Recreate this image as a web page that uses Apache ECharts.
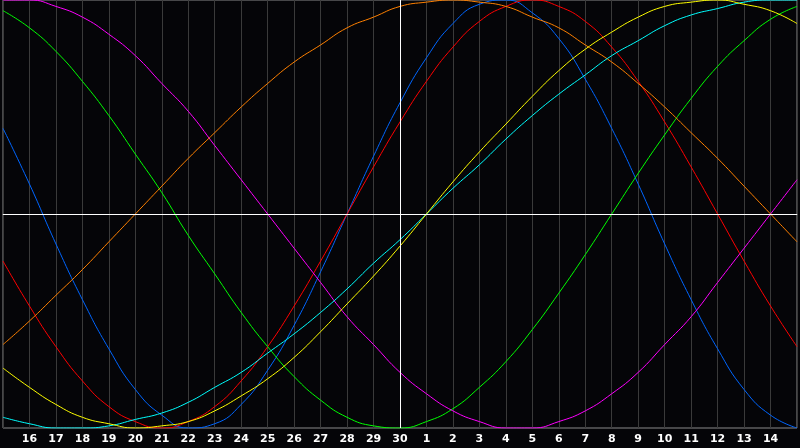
<!DOCTYPE html>
<html>
<head>
<meta charset="utf-8">
<script src="https://cdn.jsdelivr.net/npm/echarts@6/dist/echarts.min.js"></script>
<style>
  html, body { margin: 0; padding: 0; background: #050508; }
  #chart { width: 800px; height: 448px; }
</style>
</head>
<body>
<div id="chart"></div>
<script>
// days shown on the x axis (15th to 15th, first and last label hidden)
const days = ['15','16','17','18','19','20','21','22','23','24','25','26','27','28','29','30',
  '1','2','3','4','5','6','7','8','9','10','11','12','13','14','15'];
const today = '30';

// values in percent per day
const physical = [40,14,-14,-40,-63,-82,-94,-100,-98,-89,-73,-52,-27,0,27,52,73,89,98,100,94,82,63,40,14,-14,-40,-63,-82,-94,-100];
const emotional = [-22,-43,-62,-78,-90,-97,-100,-97,-90,-78,-62,-43,-22,0,22,43,62,78,90,97,100,97,90,78,62,43,22,0,-22,-43,-62];
const intellectual = [95,87,76,62,46,28,10,-10,-28,-46,-62,-76,-87,-95,-99,-100,-97,-91,-81,-69,-54,-37,-19,0,19,37,54,69,81,91,97];
const intuitive = [100,100,97,92,84,74,61,48,32,16,0,-16,-32,-48,-61,-74,-84,-92,-97,-100,-100,-97,-92,-84,-74,-61,-48,-32,-16,0,16];
const aesthetic = [-72,-81,-89,-95,-98,-100,-99,-97,-92,-85,-77,-67,-55,-42,-29,-15,0,15,29,42,55,67,77,85,92,97,99,100,98,95,89];
const awareness = [-61,-50,-38,-26,-13,0,13,26,38,50,61,71,79,87,92,97,99,100,99,97,92,87,79,71,61,50,38,26,13,0,-13];
const spiritual = [-95,-98,-100,-100,-99,-96,-93,-88,-81,-74,-65,-56,-46,-35,-23,-12,0,12,23,35,46,56,65,74,81,88,93,96,99,100,100];

const curves = [
  { name: 'Physical', data: physical, color: '#0066ff' },
  { name: 'Emotional', data: emotional, color: '#ff0000' },
  { name: 'Intellectual', data: intellectual, color: '#00ff00' },
  { name: 'Intuitive', data: intuitive, color: '#ff00ff' },
  { name: 'Awareness', data: awareness, color: '#ff8000' },
  { name: 'Spiritual', data: spiritual, color: '#00ffff' },
  { name: 'Aesthetic', data: aesthetic, color: '#ffff00' }
];

const chart = echarts.init(document.getElementById('chart'));

const series = curves.map(c => ({
  name: c.name,
  type: 'line',
  data: c.data,
  smooth: true,
  symbol: 'none',
  lineStyle: { color: c.color, width: 1 },
  itemStyle: { color: c.color }
}));

// white zero line and "today" marker
series[0].markLine = {
  silent: true,
  symbol: 'none',
  label: { show: false },
  lineStyle: { color: '#ffffff', width: 1, type: 'solid' },
  data: [{ yAxis: 0 }, { xAxis: today }]
};

chart.setOption({
  animation: false,
  backgroundColor: '#050508',
  grid: {
    left: 0, right: 1, top: 0, bottom: 20,
    show: true,
    borderColor: '#8a8a8a',
    borderWidth: 1
  },
  xAxis: {
    type: 'category',
    data: days,
    boundaryGap: false,
    axisLine: { lineStyle: { color: '#a0a0a0' } },
    axisTick: { show: false },
    axisLabel: {
      interval: 0,
      color: '#ffffff',
      fontFamily: 'DejaVu Sans',
      fontWeight: 'bold',
      fontSize: 11,
      margin: 6,
      formatter: (v, i) => (i === 0 || i === days.length - 1) ? '' : v
    },
    splitLine: { show: true, lineStyle: { color: '#3a3a3a', width: 1 } }
  },
  yAxis: {
    type: 'value',
    min: -100,
    max: 100,
    show: false,
    splitLine: { show: false }
  },
  series: series
});
</script>
</body>
</html>
